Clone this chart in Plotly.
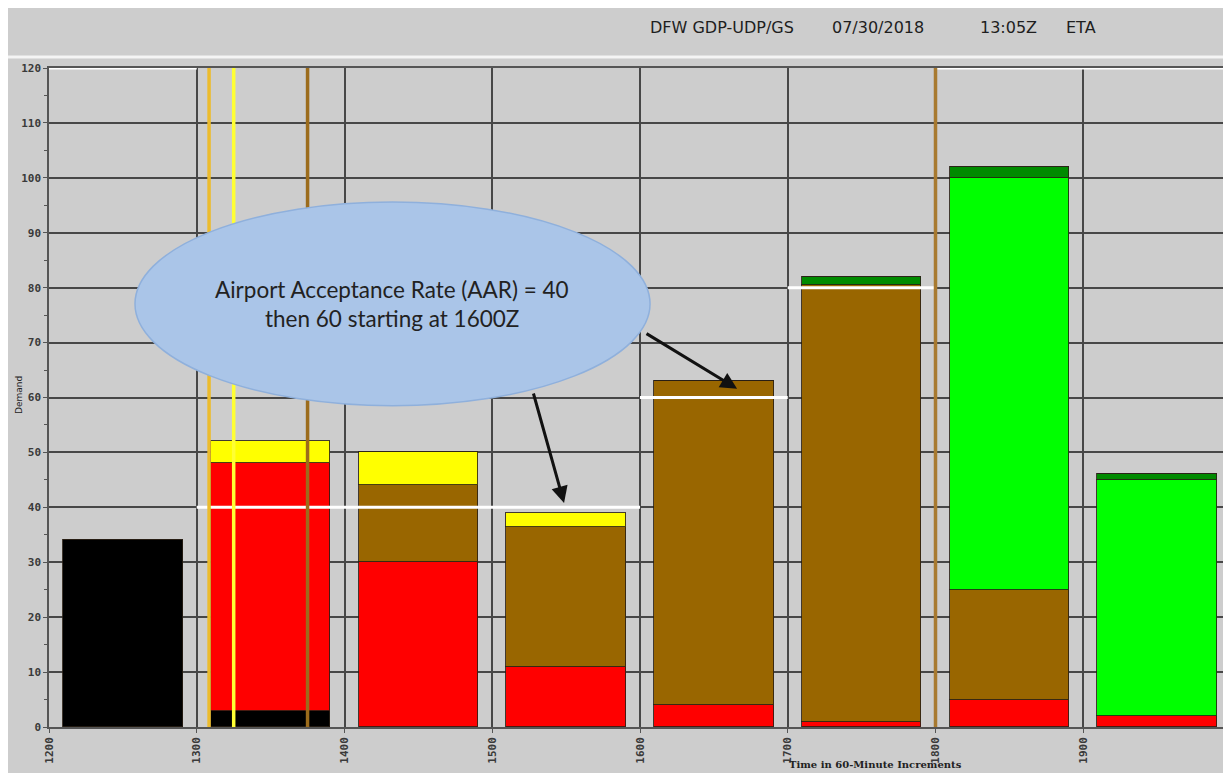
import plotly.graph_objects as go

# ---------------- data ----------------
hour_starts = [12, 13, 14, 15, 16, 17, 18, 19]
tick_hours = [12, 13, 14, 15, 16, 17, 18, 19, 20]
tick_labels = ["1200", "1300", "1400", "1500", "1600", "1700", "1800", "1900", "2000"]

black_vals = [34, 3, 0, 0, 0, 0, 0, 0]
red_vals = [0, 45, 30, 11, 4, 1, 5, 2]
brown_vals = [0, 0, 14, 25.5, 59, 79.5, 20, 0]
green_vals = [0, 0, 0, 0, 0, 0, 75, 43]
dkgreen_vals = [0, 0, 0, 0, 0, 1.5, 2, 1]
yellow_vals = [0, 4, 6, 2.5, 0, 0, 0, 0]

aar_start = [12, 13, 16, 17, 18]
aar_end = [13, 16, 17, 18, 20]
aar_vals = [120, 40, 60, 80, 120]

marker_times = [13 + 5 / 60, 13 + 15 / 60, 13 + 45 / 60, 18.0]
marker_colors = ["#ecbb2c", "#ffff33", "#9c6c1c", "#a87a30"]

# ---------------- geometry helpers ----------------
OFF = 8  # page body margin
W, H = 1231 - OFF, 773 - OFF
L, R, T, B = 49 - OFF, 0, 68 - OFF, 46
PW, PH = W - L - R, H - T - B


def px(xp):
    return (xp - OFF - L) / PW


def py(yp):
    return (H - B - (yp - OFF)) / PH


centers = [h + 0.5 for h in hour_starts]
bw = 0.81

fig = go.Figure()
series = [
    ("black", black_vals, "#000000"),
    ("red", red_vals, "#ff0000"),
    ("brown", brown_vals, "#996600"),
    ("green", green_vals, "#00ff00"),
    ("dkgreen", dkgreen_vals, "#008a00"),
    ("yellow", yellow_vals, "#ffff00"),
]
for name, vals, col in series:
    fig.add_trace(go.Bar(
        x=centers, y=vals, width=bw, name=name,
        marker=dict(color=col, line=dict(color="rgba(40,30,20,0.85)", width=1)),
        showlegend=False, hoverinfo="skip",
    ))

# AAR white lines
for s, e, v in zip(aar_start, aar_end, aar_vals):
    fig.add_trace(go.Scatter(
        x=[s, e], y=[v, v], mode="lines",
        line=dict(color="#ffffff", width=3),
        showlegend=False, hoverinfo="skip", cliponaxis=False,
    ))

# vertical time markers
for t, c in zip(marker_times, marker_colors):
    fig.add_trace(go.Scatter(
        x=[t, t], y=[0, 120], mode="lines",
        line=dict(color=c, width=3.5),
        showlegend=False, hoverinfo="skip",
    ))

tick_font = dict(family="DejaVu Sans Mono", size=11, color="#3a3a3a", weight="bold")

fig.update_layout(
    width=W, height=H,
    margin=dict(l=L, r=R, t=T, b=B, autoexpand=False),
    paper_bgcolor="#cdcdcd",
    plot_bgcolor="#cdcdcd",
    barmode="stack",
    bargap=0,
    xaxis=dict(
        range=[12, 20], tickvals=tick_hours, ticktext=tick_labels,
        tickangle=-90, tickfont=tick_font,
        showgrid=True, gridcolor="#474747", gridwidth=1.6,
        showline=True, linecolor="#555555", linewidth=1.5, mirror=True,
        ticks="outside", ticklen=4, tickcolor="#555555",
        zeroline=False, fixedrange=True,
    ),
    yaxis=dict(
        range=[0, 120], tickvals=list(range(0, 121, 10)),
        tickfont=tick_font,
        showgrid=True, gridcolor="#474747", gridwidth=1.6,
        showline=True, linecolor="#555555", linewidth=1.5, mirror=True,
        ticks="outside", ticklen=4, tickcolor="#555555",
        minor=dict(dtick=5, ticks="outside", ticklen=3, tickcolor="#555555", showgrid=False),
        zeroline=False, fixedrange=True,
    ),
)

# header separator line
fig.add_shape(type="line", xref="paper", yref="paper",
              x0=px(0), x1=px(1240), y0=py(57), y1=py(57),
              line=dict(color="#f4f4f4", width=3))

header_font = dict(family="DejaVu Sans", size=16, color="#1e1e1e")
for txt, xpos in [("DFW GDP-UDP/GS", 648), ("07/30/2018", 830), ("13:05Z", 978), ("ETA", 1064)]:
    fig.add_annotation(text=txt, xref="paper", yref="paper", x=px(xpos), y=py(27),
                       xanchor="left", yanchor="middle", showarrow=False, font=header_font)

# ellipse callout
fig.add_shape(type="circle", xref="x", yref="y",
              x0=12.582, x1=16.068, y0=58.5, y1=95.6,
              fillcolor="#aac5e8", line=dict(color="#8fb0dc", width=1.5))
fig.add_annotation(text="Airport Acceptance Rate (AAR) = 40", x=14.32, y=79.6,
                   xref="x", yref="y", showarrow=False,
                   font=dict(family="Lato", size=22.5, color="#222222"))
fig.add_annotation(text="then 60 starting at 1600Z", x=14.32, y=74.3,
                   xref="x", yref="y", showarrow=False,
                   font=dict(family="Lato", size=22.5, color="#222222"))

# arrows
for hx, hy, tx, ty in [(15.486, 40.8, 15.276, 61.0), (16.657, 61.6, 16.034, 71.8)]:
    fig.add_annotation(x=hx, y=hy, ax=tx, ay=ty, xref="x", yref="y", axref="x", ayref="y",
                       text="", showarrow=True, arrowhead=2, arrowsize=1.1,
                       arrowwidth=3, arrowcolor="#111111")

# axis titles
fig.add_annotation(text="Demand", xref="paper", yref="paper", x=px(12), y=py(395),
                   textangle=-90, showarrow=False,
                   font=dict(family="DejaVu Sans", size=9, color="#222222"))
fig.add_annotation(text="Time in 60-Minute Increments", xref="paper", yref="paper",
                   x=px(875), y=py(772), xanchor="center", yanchor="bottom", showarrow=False,
                   font=dict(family="DejaVu Serif", size=10, color="#222222", weight="bold"))

fig.write_html("out.html")
